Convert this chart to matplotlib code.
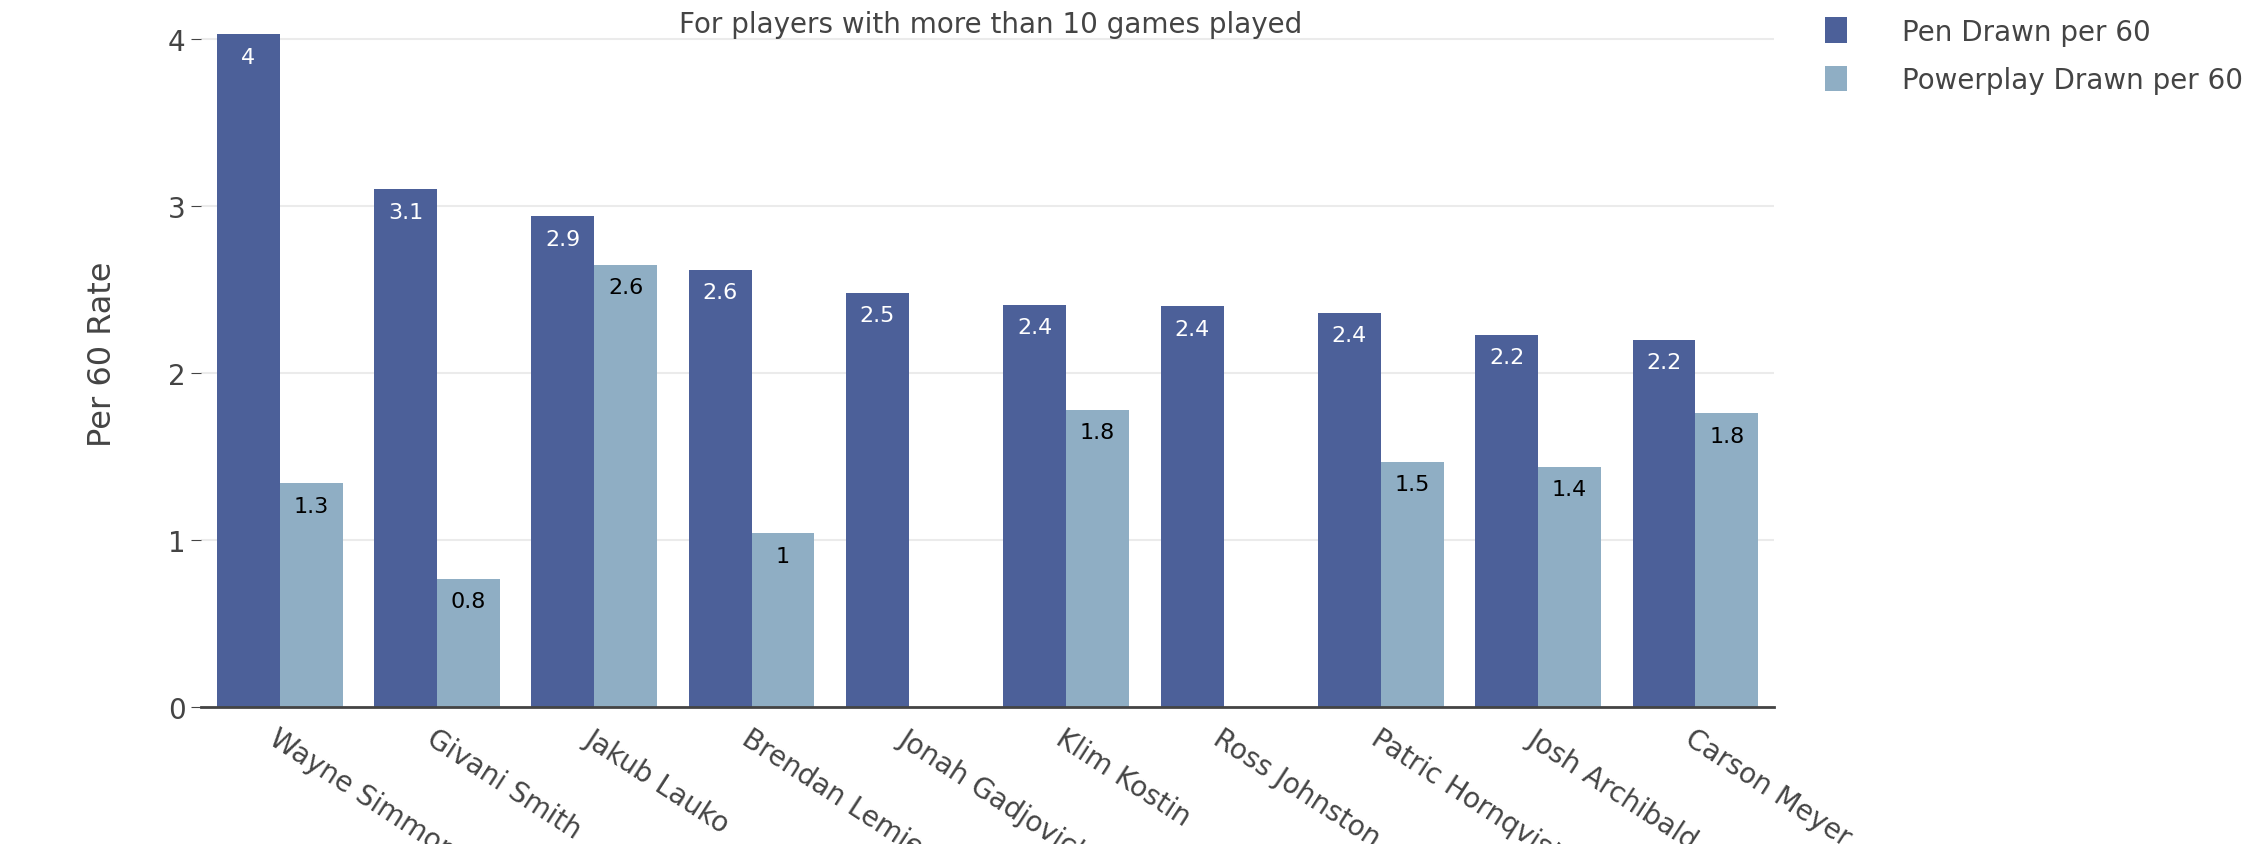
import numpy as np
import matplotlib.pyplot as plt

players = ["Wayne Simmonds", "Givani Smith", "Jakub Lauko", "Brendan Lemieux",
           "Jonah Gadjovich", "Klim Kostin", "Ross Johnston", "Patric Hornqvist",
           "Josh Archibald", "Carson Meyer"]
pen_drawn = [4.03, 3.10, 2.94, 2.62, 2.48, 2.41, 2.40, 2.36, 2.23, 2.20]
pp_drawn = [1.34, 0.77, 2.65, 1.04, 0.0, 1.78, 0.0, 1.47, 1.44, 1.76]

pen_color = "#4c6099"
pp_color = "#8faec4"


def fmt(v):
    return f"{v:.1f}".rstrip("0").rstrip(".")


fig = plt.figure(figsize=(22.58, 8.45), dpi=100)
ax = fig.add_axes([0.089, 0.162, 0.6967, 0.838])

x = np.arange(len(players))
w = 0.4
b1 = ax.bar(x - w / 2, pen_drawn, w, color=pen_color, label="Pen Drawn per 60", zorder=2)
b2 = ax.bar(x + w / 2, pp_drawn, w, color=pp_color, label="Powerplay Drawn per 60", zorder=2)

# value labels inside the top of each bar
for bars, vals, c in ((b1, pen_drawn, "white"), (b2, pp_drawn, "black")):
    for rect, v in zip(bars, vals):
        if v <= 0:
            continue
        ax.annotate(fmt(v), (rect.get_x() + rect.get_width() / 2, v),
                    xytext=(0, -9), textcoords="offset points",
                    ha="center", va="top", fontsize=16, color=c, zorder=3)

ax.set_xlim(-0.5, len(players) - 0.5)
ax.set_ylim(0, 4.24)
ax.set_yticks([0, 1, 2, 3, 4])
ax.set_yticklabels(["0", "1", "2", "3", "4"])
ax.grid(axis="y", color="#ebebeb", linewidth=1.5, zorder=0)
for s in ["top", "right", "left"]:
    ax.spines[s].set_visible(False)
ax.spines["bottom"].set_color("#444444")
ax.spines["bottom"].set_linewidth(2)
ax.spines["bottom"].set_zorder(4)
ax.tick_params(axis="y", length=7, color="#444444", labelsize=20, labelcolor="#444444", pad=4)
ax.tick_params(axis="x", length=0, pad=12)

ax.set_xticks(x)
ax.set_xticklabels(players, rotation=-33, ha="left", va="top",
                   rotation_mode="anchor", fontsize=20, color="#444444")

ax.set_ylabel("Per 60 Rate", fontsize=23, color="#444444", labelpad=36)

fig.text(0.4385, 0.97, "For players with more than 10 games played",
         ha="center", va="center", fontsize=20, color="#444444")

leg = fig.legend(loc="upper left", bbox_to_anchor=(0.797, 1.008), frameon=False,
                 fontsize=20, handlelength=0.8, handleheight=1.05,
                 handletextpad=2.0, labelspacing=0.72)
for t in leg.get_texts():
    t.set_color("#444444")

fig.savefig("out.png", dpi=100)
